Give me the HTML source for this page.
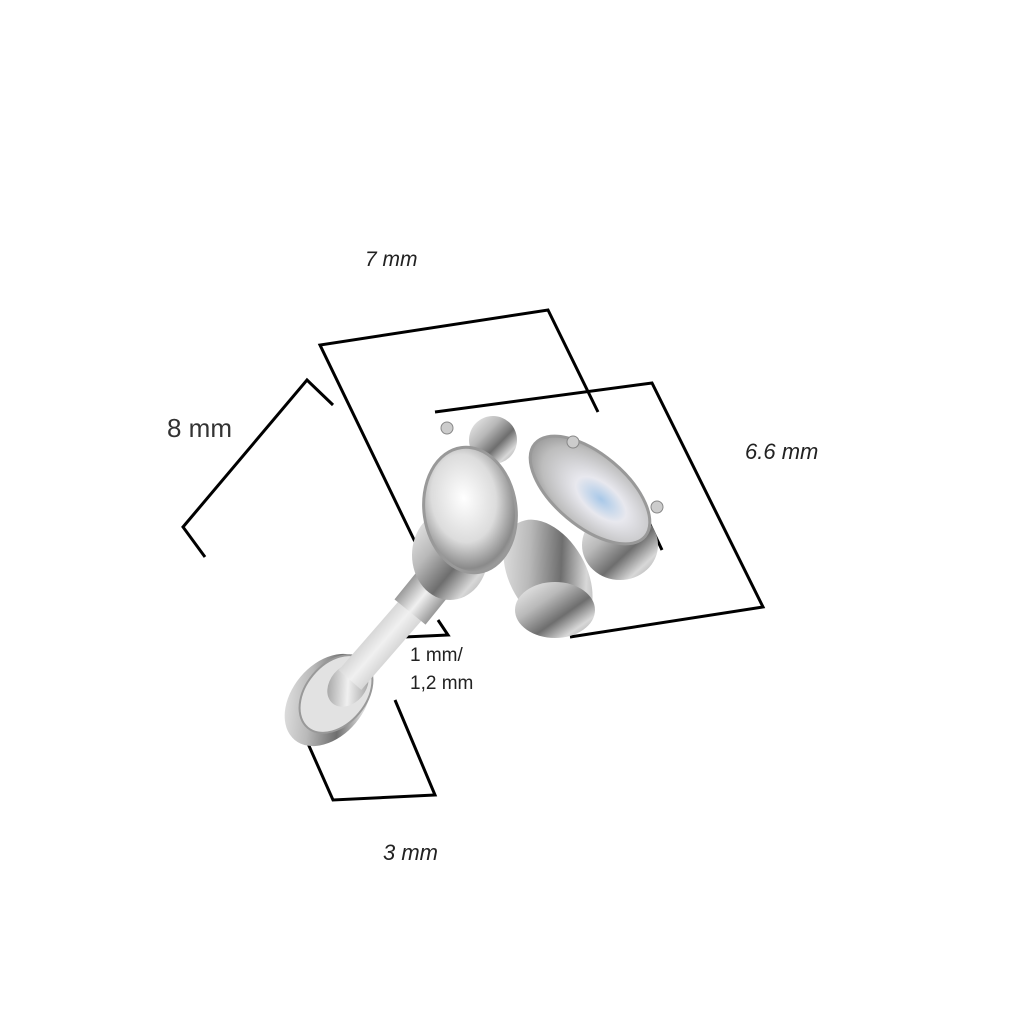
<!DOCTYPE html>
<html><head><style>
html,body{margin:0;padding:0;background:#fff;width:1024px;height:1024px;overflow:hidden}
svg{display:block}
</style></head><body>
<svg width="1024" height="1024" viewBox="0 0 1024 1024" xmlns="http://www.w3.org/2000/svg">
<defs>
<linearGradient id="metal" x1="0" y1="0" x2="1" y2="1">
<stop offset="0" stop-color="#f4f4f4"/><stop offset="0.35" stop-color="#b9b9b9"/><stop offset="0.6" stop-color="#6e6e6e"/><stop offset="0.8" stop-color="#d8d8d8"/><stop offset="1" stop-color="#9a9a9a"/>
</linearGradient>
<linearGradient id="post" x1="0" y1="0" x2="1" y2="1">
<stop offset="0" stop-color="#8c8c8c"/><stop offset="0.5" stop-color="#f0f0f0"/><stop offset="1" stop-color="#8a8a8a"/>
</linearGradient>
<radialGradient id="gem" cx="0.45" cy="0.4" r="0.7">
<stop offset="0" stop-color="#ffffff"/><stop offset="0.5" stop-color="#dcdcdc"/><stop offset="0.8" stop-color="#8a8a8a"/><stop offset="1" stop-color="#c8c8c8"/>
</radialGradient>
<radialGradient id="gem2" cx="0.6" cy="0.5" r="0.7">
<stop offset="0" stop-color="#a8c8e8"/><stop offset="0.3" stop-color="#e8e8ee"/><stop offset="0.7" stop-color="#bdbdbd"/><stop offset="1" stop-color="#7d7d7d"/>
</radialGradient>
</defs>

<g fill="none" stroke="#000" stroke-width="3">
<polyline points="333,405 307,380 183,527 205,557"/>
<polyline points="418,548 320,345 548,310 598,412"/>
<polyline points="628,478 662,550"/>
<polyline points="435,412 652,383 763,607 570,637"/>
<polyline points="398,622 405,637 448,635 438,620"/>
<polyline points="290,703 333,800 435,795 395,700"/>
</g>

<!-- disc -->
<ellipse cx="328" cy="700" rx="52" ry="36" transform="rotate(-50 328 700)" fill="url(#metal)"/>
<ellipse cx="336" cy="694" rx="44" ry="30" transform="rotate(-50 336 694)" fill="#e2e2e2" stroke="#999" stroke-width="2"/>
<ellipse cx="348" cy="685" rx="24" ry="18" transform="rotate(-50 348 685)" fill="url(#post)"/>
<!-- post -->
<line x1="350" y1="680" x2="430" y2="588" stroke="url(#post)" stroke-width="30"/>
<line x1="410" y1="612" x2="440" y2="575" stroke="url(#post)" stroke-width="40"/>

<!-- bee -->
<ellipse cx="548" cy="575" rx="38" ry="60" transform="rotate(-30 548 575)" fill="url(#metal)"/>
<ellipse cx="555" cy="610" rx="40" ry="28" fill="url(#metal)"/>
<ellipse cx="450" cy="555" rx="38" ry="45" fill="url(#metal)"/>
<ellipse cx="620" cy="545" rx="38" ry="35" fill="url(#metal)"/>
<circle cx="493" cy="440" r="24" fill="url(#metal)"/>
<ellipse cx="470" cy="510" rx="46" ry="63" transform="rotate(-8 470 510)" fill="url(#gem)" stroke="#999" stroke-width="3"/>
<ellipse cx="590" cy="490" rx="72" ry="36" transform="rotate(40 590 490)" fill="url(#gem2)" stroke="#999" stroke-width="3"/>
<circle cx="447" cy="428" r="6" fill="#ccc" stroke="#888"/>
<circle cx="573" cy="442" r="6" fill="#ccc" stroke="#888"/>
<circle cx="657" cy="507" r="6" fill="#ccc" stroke="#888"/>
</svg>

<div style="position:absolute;left:365px;top:248px;font:italic 21px 'Liberation Sans',sans-serif;color:#222">7 mm</div>
<div style="position:absolute;left:167px;top:413px;font:26px 'Liberation Sans',sans-serif;color:#333">8 mm</div>
<div style="position:absolute;left:745px;top:439px;font:italic 22px 'Liberation Sans',sans-serif;color:#222">6.6 mm</div>
<div style="position:absolute;left:383px;top:840px;font:italic 22px 'Liberation Sans',sans-serif;color:#222">3 mm</div>
<div style="position:absolute;left:410px;top:642px;font:19px/28px 'Liberation Sans',sans-serif;color:#222">1 mm/<br>1,2 mm</div>
</body></html>
